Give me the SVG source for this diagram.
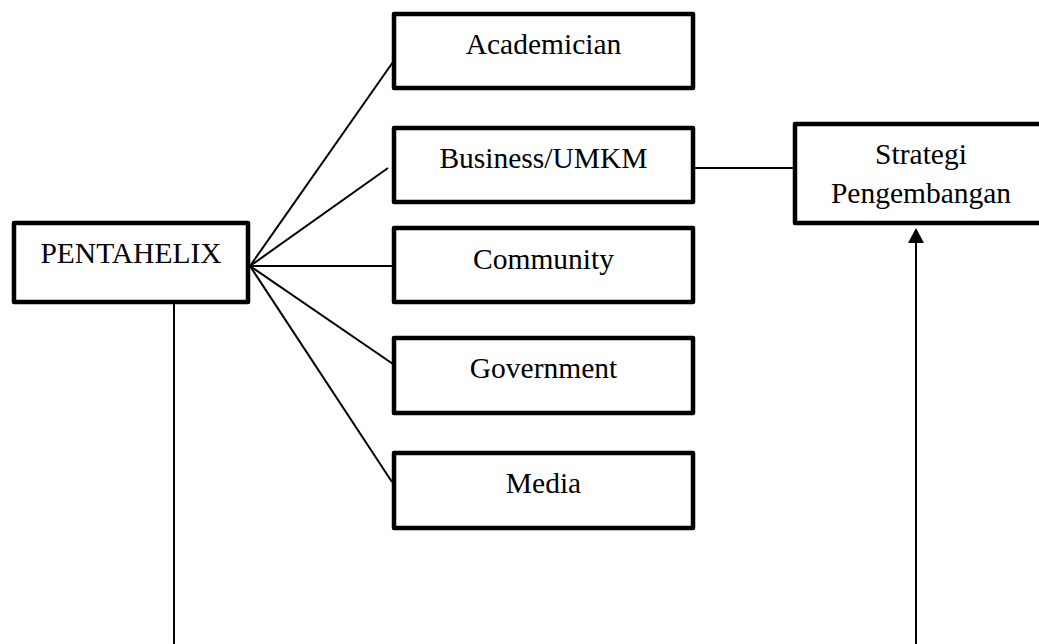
<svg xmlns="http://www.w3.org/2000/svg" width="1039" height="644" viewBox="0 0 1039 644">
<style>
.box{fill:#fff;stroke:#000;stroke-width:4.5;stroke-linejoin:round}
.lbl{font-family:"Liberation Serif","Times New Roman",serif;font-size:29.5px;fill:#000;text-anchor:middle}
.ln{stroke:#000;stroke-width:2;fill:none}
.head{fill:#000}
</style>
<rect width="1039" height="644" fill="#fff"/>
<g id="connectors">
<line class="ln" x1="250" y1="266" x2="393" y2="62"/>
<line class="ln" x1="250" y1="266" x2="388" y2="168"/>
<line class="ln" x1="250" y1="266" x2="393" y2="266"/>
<line class="ln" x1="250" y1="266" x2="393" y2="364"/>
<line class="ln" x1="250" y1="266" x2="392" y2="482"/>
<line class="ln" x1="693" y1="168" x2="795" y2="168"/>
<line class="ln" x1="174" y1="302" x2="174" y2="644"/>
<line class="ln" x1="916" y1="644" x2="916" y2="242"/>
<polygon class="head" points="916,228 908,243 924,243"/>
</g>
<g id="pentahelix">
<rect class="box" x="14" y="223" width="234" height="79"/>
<text class="lbl" x="131" y="263">PENTAHELIX</text>
</g>
<g id="academician">
<rect class="box" x="394" y="14" width="299" height="74"/>
<text class="lbl" x="543.5" y="54">Academician</text>
</g>
<g id="business">
<rect class="box" x="394" y="128" width="299" height="74"/>
<text class="lbl" x="543.5" y="168">Business/UMKM</text>
</g>
<g id="community">
<rect class="box" x="394" y="228" width="299" height="74"/>
<text class="lbl" x="543.5" y="269">Community</text>
</g>
<g id="government">
<rect class="box" x="394" y="338" width="299" height="75"/>
<text class="lbl" x="543.5" y="378">Government</text>
</g>
<g id="media">
<rect class="box" x="394" y="453" width="299" height="75"/>
<text class="lbl" x="543.5" y="493">Media</text>
</g>
<g id="strategi">
<rect class="box" x="795" y="124" width="252" height="99"/>
<text class="lbl" x="921" y="164">Strategi</text>
<text class="lbl" x="921" y="203">Pengembangan</text>
</g>
</svg>
